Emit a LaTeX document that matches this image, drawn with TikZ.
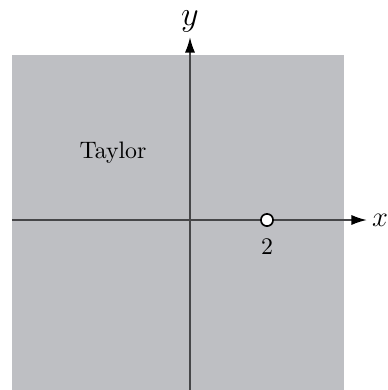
\documentclass[tikz,border=0pt]{standalone}
\usepackage{amsmath,amssymb}
\usepackage{xcolor}
\usetikzlibrary{arrows.meta,positioning,calc}
\definecolor{regiongray}{RGB}{190,191,195}
\definecolor{axisgray}{RGB}{70,70,72}
\tikzset{
  axisline/.style={-{Latex[length=2.3mm,width=1.5mm,color=black]},line width=.8pt,draw=axisgray},
  holept/.style={circle,draw=black,fill=white,line width=.7pt,inner sep=0pt,minimum size=1.8mm},
  axislabel/.style={inner sep=0pt}
}

\begin{document}
\begin{tikzpicture}[x=0.42pt,y=-0.42pt]
  \useasboundingbox (0,0) rectangle (388,390);
  \fill[regiongray] (12,55) rectangle (344,390);
  \coordinate (O) at (190,220);
  \coordinate (xl) at (12,220);
  \coordinate (xtip) at (367,220);
  \coordinate (yb) at (190,390);
  \coordinate (ytip) at (190,37);
  \draw[axisline] (xl)--(xtip);
  \draw[axisline] (yb)--(ytip);
  \node[axislabel,font=\large,right=0.7mm of xtip] (xlab) {$x$};
  \node[axislabel,font=\Large,above=0.6mm of ytip] (ylab) {$y$};
  \node[holept] (p2) at (267,220) {};
  \node[below=0.6mm of p2] (two) {$2$};
  \node (taylor) at (113,153) {Taylor};
\end{tikzpicture}
\end{document}
